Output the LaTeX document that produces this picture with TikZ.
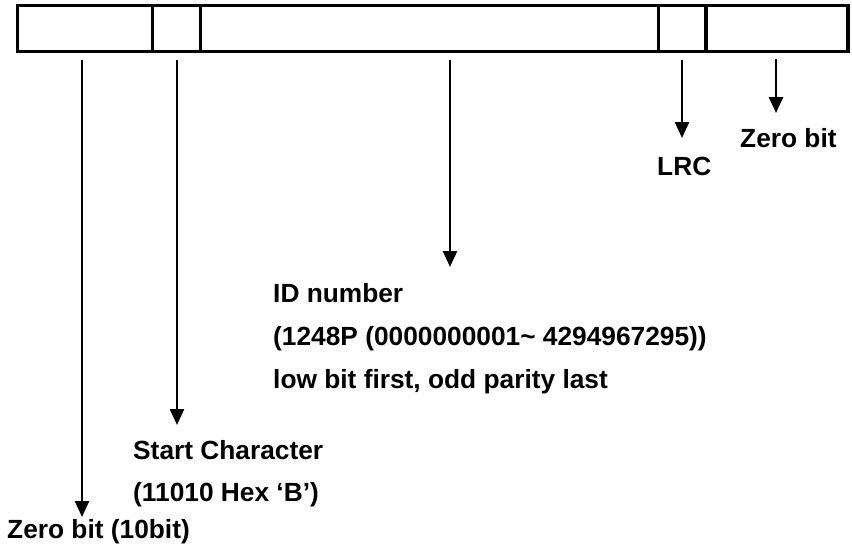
\documentclass[tikz,border=0pt]{standalone}
\usepackage{fontspec}
\setmainfont{Liberation Sans}
\usetikzlibrary{arrows.meta}
\begin{document}
\begin{tikzpicture}[x=1pt,y=-1pt,
  cell/.style={draw=black,line width=3.5pt,inner sep=0pt,minimum height=46pt,anchor=center},
  lbl/.style={anchor=base west,inner sep=0pt,font=\fontsize{26.3}{31}\selectfont\bfseries},
  arr/.style={line width=2.5pt,-{Triangle[width=14pt,length=16pt]}}]
\useasboundingbox (0,0) rectangle (852,544);
\node[cell,minimum width=135pt] (c1) at (85,28.5) {};
\node[cell,minimum width=48pt] (c2) at (176.5,28.5) {};
\node[cell,minimum width=458.2pt] (c3) at (429.6,28.5) {};
\node[cell,minimum width=47.3pt] (c4) at (682.35,28.5) {};
\node[cell,minimum width=142pt] (c5) at (777,28.5) {};
% labels
\node[lbl] (zb) at (740,147) {Zero bit};
\node[lbl] (lrc) at (657,175) {LRC};
\node[lbl] (id1) at (273,302) {ID number};
\node[lbl] (id2) at (273,345) {(1248P (0000000001\textasciitilde\ 4294967295))};
\node[lbl] (id3) at (273,388) {low bit first, odd parity last};
\node[lbl] (sc1) at (133,459) {Start Character};
\node[lbl] (sc2) at (133,501) {(11010 Hex ‘B’)};
\node[lbl] (zb10) at (7,538) {Zero bit (10bit)};
% arrow start and end points
\coordinate (s1) at (82,60);   \coordinate (e1) at (82,517);
\coordinate (s2) at (177,60);  \coordinate (e2) at (177,425);
\coordinate (s3) at (450,60);  \coordinate (e3) at (450,267);
\coordinate (s4) at (682,60);  \coordinate (e4) at (682,138);
\coordinate (s5) at (776,59);  \coordinate (e5) at (776,113);
\draw[arr] (s1) -- (e1);
\draw[arr] (s2) -- (e2);
\draw[arr] (s3) -- (e3);
\draw[arr] (s4) -- (e4);
\draw[arr] (s5) -- (e5);
\end{tikzpicture}
\end{document}
